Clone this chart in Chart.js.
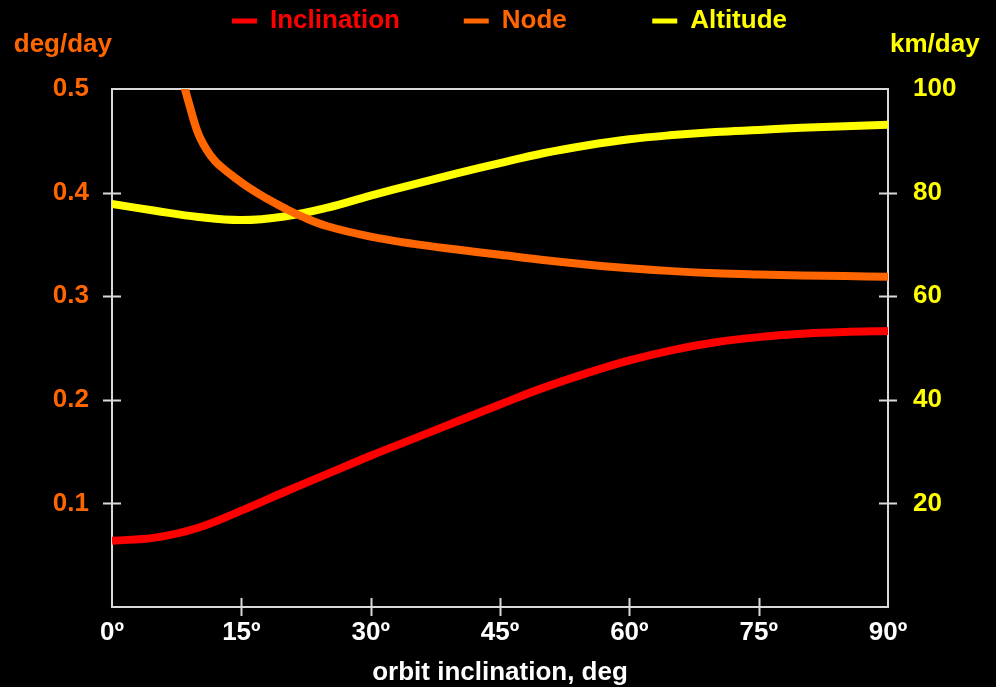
<!DOCTYPE html>
<html>
<head>
<meta charset="utf-8">
<script src="https://cdn.jsdelivr.net/npm/chart.js@4.4.1/dist/chart.umd.min.js"></script>
<style>
  html, body { margin: 0; background: #000; }
  #wrap { width: 996px; height: 687px; position: relative; }
</style>
</head>
<body>
<div id="wrap"><canvas id="orbit"></canvas></div>
<script>
// orbit inclination, deg
const angles = [0, 5, 10, 15, 20, 25, 30, 35, 40, 45, 50, 55, 60, 65, 70, 75, 80, 85, 90];
// deg/day
const inclinationRate = [0.064, 0.067, 0.0765, 0.093, 0.111, 0.1285, 0.146, 0.1625, 0.179, 0.1955, 0.2115, 0.2255,
    0.238, 0.248, 0.2555, 0.2605, 0.2637, 0.2655, 0.2664];
// km/day
const altitudeRate = [77.8, 76.5, 75.3, 74.7, 75.4, 77.1, 79.4, 81.6, 83.7, 85.7, 87.6, 89.1,
    90.3, 91.1, 91.7, 92.1, 92.5, 92.8, 93.1];
// node curve starts above the top of the plot
const nodeAngles = [8, 9, 10, 11, 12, 13, 14, 16, 18, 20, 22, 25, 30, 35, 40, 45, 50, 55, 60, 65, 70, 75, 80, 85, 90];
const nodeRate = [0.514, 0.484, 0.457, 0.441, 0.430, 0.4225, 0.416, 0.404, 0.394, 0.385, 0.377, 0.3675, 0.3575,
    0.3505, 0.345, 0.340, 0.335, 0.3307, 0.327, 0.3242, 0.3222, 0.321, 0.3201, 0.3194, 0.3188];

const xTicks = [0, 15, 30, 45, 60, 75, 90];
const leftTicks = [0.1, 0.2, 0.3, 0.4, 0.5];
const rightTicks = [20, 40, 60, 80, 100];

const RED = '#ff0000', ORANGE = '#ff6600', YELLOW = '#ffff00', AXIS = '#d9d9d9';
const FAMILY = "'Liberation Sans', Arial, sans-serif";
const FONT = {family: FAMILY, size: 26, weight: 'bold'};

function points(xs, ys) {
    return xs.map(function (x, i) {
        return {x: x, y: ys[i]};
    });
}

function series(label, xs, ys, color, axis) {
    return {
        label: label,
        data: points(xs, ys),
        yAxisID: axis,
        borderColor: color,
        backgroundColor: color,
        borderWidth: 8,
        pointRadius: 0,
        tension: 0.4,
        clip: 0
    };
}

// box round the plot, ticks that cross the axes, unit labels
const frame = {
    id: 'frame',
    afterDraw(chart) {
        const {ctx, chartArea: a, scales} = chart;
        ctx.save();
        ctx.strokeStyle = AXIS;
        ctx.lineWidth = 2;
        ctx.beginPath();
        for (const v of xTicks.slice(1, -1)) {
            const px = Math.round(scales.x.getPixelForValue(v)) + 0.5;
            ctx.moveTo(px, a.bottom - 9);
            ctx.lineTo(px, a.bottom + 9);
        }
        for (const v of leftTicks.slice(0, -1)) {
            const py = Math.round(scales.yL.getPixelForValue(v)) + 0.5;
            ctx.moveTo(a.left - 9, py);
            ctx.lineTo(a.left + 9, py);
        }
        for (const v of rightTicks.slice(0, -1)) {
            const py = Math.round(scales.yR.getPixelForValue(v)) + 0.5;
            ctx.moveTo(a.right - 9, py);
            ctx.lineTo(a.right + 9, py);
        }
        ctx.stroke();

        ctx.font = 'bold 26px ' + FAMILY;
        ctx.textBaseline = 'alphabetic';
        ctx.fillStyle = ORANGE;
        ctx.textAlign = 'right';
        ctx.fillText('deg/day', a.left, a.top - 37);
        ctx.fillStyle = YELLOW;
        ctx.textAlign = 'left';
        ctx.fillText('km/day', a.right + 2, a.top - 37);
        ctx.restore();
    }
};

const orbitChart = new Chart(document.getElementById('orbit'), {
    type: 'line',
    data: {
        datasets: [
            series('Inclination        ', angles, inclinationRate, RED, 'yL'),
            series('Node           ', nodeAngles, nodeRate, ORANGE, 'yL'),
            series('Altitude', angles, altitudeRate, YELLOW, 'yR')
        ]
    },
    plugins: [frame],
    options: {
        responsive: true,
        maintainAspectRatio: false,
        animation: false,
        layout: {padding: {left: 23, right: 0, top: 2, bottom: 0}},
        plugins: {
            tooltip: {enabled: false},
            legend: {
                position: 'top',
                labels: {
                    font: FONT,
                    boxWidth: 25,
                    boxHeight: 5,
                    padding: 6,
                    generateLabels(chart) {
                        return chart.data.datasets.map(function (ds, i) {
                            return {
                                text: ds.label,
                                fillStyle: ds.borderColor,
                                strokeStyle: ds.borderColor,
                                fontColor: ds.borderColor,
                                lineWidth: 0,
                                hidden: false,
                                datasetIndex: i
                            };
                        });
                    }
                }
            }
        },
        scales: {
            x: {
                type: 'linear',
                position: 'bottom',
                min: 0,
                max: 90,
                afterBuildTicks(scale) {
                    scale.ticks = xTicks.map(v => ({value: v}));
                },
                afterFit(scale) {
                    scale.height = 80;
                },
                ticks: {
                    color: '#ffffff',
                    font: FONT,
                    padding: 10,
                    maxRotation: 0,
                    callback: v => v + 'º'
                },
                grid: {display: false, drawTicks: false},
                border: {color: AXIS, width: 2},
                title: {
                    display: true,
                    text: 'orbit inclination, deg',
                    color: '#ffffff',
                    font: FONT,
                    padding: {top: 0, bottom: -1}
                }
            },
            top: {
                type: 'linear',
                position: 'top',
                min: 0,
                max: 90,
                afterFit(scale) {
                    scale.height = 45;
                },
                ticks: {display: false},
                grid: {display: false, drawTicks: false},
                border: {color: AXIS, width: 2}
            },
            yL: {
                type: 'linear',
                position: 'left',
                min: 0,
                max: 0.5,
                afterBuildTicks(scale) {
                    scale.ticks = leftTicks.map(v => ({value: v}));
                },
                afterFit(scale) {
                    scale.width = 89;
                },
                ticks: {
                    color: ORANGE,
                    font: FONT,
                    padding: 23,
                    callback: v => v.toFixed(1)
                },
                grid: {display: false, drawTicks: false},
                border: {color: AXIS, width: 2}
            },
            yR: {
                type: 'linear',
                position: 'right',
                min: 0,
                max: 100,
                afterBuildTicks(scale) {
                    scale.ticks = rightTicks.map(v => ({value: v}));
                },
                afterFit(scale) {
                    scale.width = 108;
                },
                ticks: {
                    color: YELLOW,
                    font: FONT,
                    padding: 25,
                    callback: v => String(v)
                },
                grid: {display: false, drawTicks: false},
                border: {color: AXIS, width: 2}
            }
        }
    }
});
</script>
</body>
</html>
